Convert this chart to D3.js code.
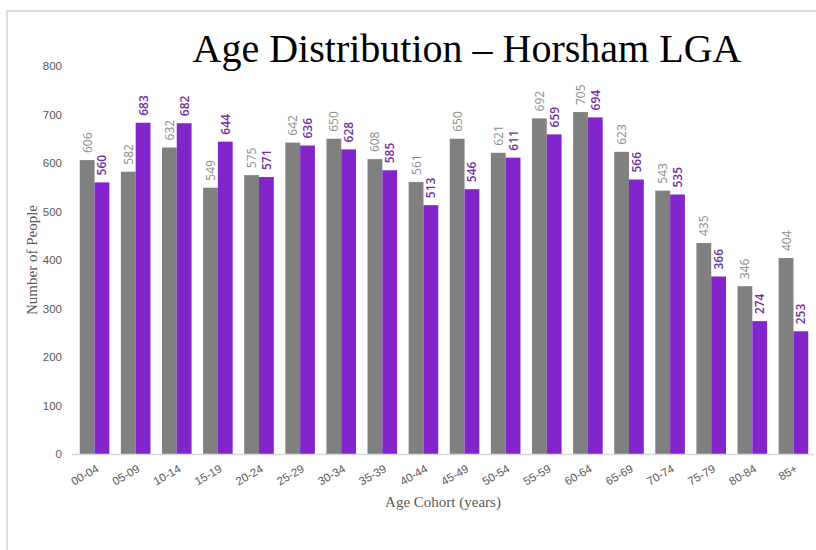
<!DOCTYPE html>
<html>
<head>
<meta charset="utf-8">
<script src="https://cdn.jsdelivr.net/npm/d3@7"></script>
<style>
  html, body { margin: 0; padding: 0; background: #fff; }
  svg { display: block; }
</style>
</head>
<body>
<svg id="chart" width="816" height="550"></svg>
<script>
// Age cohorts and population counts for the two series
const cohorts = ["00-04","05-09","10-14","15-19","20-24","25-29","30-34","35-39","40-44",
                 "45-49","50-54","55-59","60-64","65-69","70-74","75-79","80-84","85+"];
const seriesA = [606, 582, 632, 549, 575, 642, 650, 608, 561, 650, 621, 692, 705, 623, 543, 435, 346, 404];
const seriesB = [560, 683, 682, 644, 571, 636, 628, 585, 513, 546, 611, 659, 694, 566, 535, 366, 274, 253];
const yTicks = [0, 100, 200, 300, 400, 500, 600, 700, 800];
const seriesKeys = ["A", "B"];

const svg = d3.select("#chart");

// page frame (top and left edges)
svg.append("line").attr("x1", 6).attr("x2", 816).attr("y1", 11).attr("y2", 11)
  .attr("stroke", "#dcdcdc").attr("stroke-width", 2);
svg.append("line").attr("x1", 7).attr("x2", 7).attr("y1", 11).attr("y2", 550)
  .attr("stroke", "#dcdcdc").attr("stroke-width", 2);

const x0 = d3.scaleBand().domain(cohorts).range([74, 814]).paddingInner(0.28).paddingOuter(0.14);
const x1 = d3.scaleBand().domain(seriesKeys).range([0, x0.bandwidth()]).padding(0);
const y = d3.scaleLinear().domain([0, 800]).range([454, 66]);

const colors = { A: "#808080", B: "#8226cc" };
const labelColors = { A: "#8c8c8c", B: "#7030a0" };

const rows = cohorts.map((c, i) => ({ cohort: c, A: seriesA[i], B: seriesB[i] }));

const groups = svg.append("g").selectAll("g").data(rows).join("g")
  .attr("transform", d => `translate(${x0(d.cohort)},0)`);

groups.selectAll("rect").data(d => seriesKeys.map(k => ({ key: k, value: d[k] }))).join("rect")
  .attr("x", d => x1(d.key))
  .attr("width", x1.bandwidth())
  .attr("y", d => y(d.value))
  .attr("height", d => y(0) - y(d.value))
  .attr("fill", d => colors[d.key]);

// rotated value labels above each bar
groups.selectAll("text").data(d => seriesKeys.map(k => ({ key: k, value: d[k] }))).join("text")
  .attr("transform", d => `translate(${x1(d.key) + x1.bandwidth() / 2 + 4.5},${y(d.value) - 7}) rotate(-90)`)
  .attr("text-anchor", "start")
  .attr("font-family", "'Open Sans', sans-serif")
  .attr("font-size", 12)
  .attr("font-weight", d => d.key === "B" ? 600 : 400)
  .attr("fill", d => labelColors[d.key])
  .text(d => d.value);

// x axis
const xAxis = svg.append("g").attr("transform", `translate(0,${y(0)})`)
  .call(d3.axisBottom(x0).tickSize(0).tickPadding(0).tickSizeOuter(0));
xAxis.select(".domain").attr("stroke", "#d9d9d9").attr("stroke-width", 1.5)
  .attr("d", `M72,0.5H814`);
xAxis.selectAll(".tick text")
  .attr("font-family", "'Liberation Sans', Arial, sans-serif")
  .attr("font-size", 11.5)
  .attr("fill", "#595959")
  .attr("text-anchor", "end")
  .attr("y", 0).attr("dy", 0)
  .attr("transform", "translate(5,17) rotate(-30)");

// y axis
const yAxis = svg.append("g").attr("transform", "translate(62,0)")
  .call(d3.axisLeft(y).tickValues(yTicks).tickSize(0).tickPadding(0));
yAxis.select(".domain").remove();
yAxis.selectAll(".tick text")
  .attr("font-family", "'Liberation Sans', Arial, sans-serif")
  .attr("font-size", 11.5)
  .attr("fill", "#595959");

// axis titles
svg.append("text")
  .attr("transform", "translate(37,260) rotate(-90)")
  .attr("text-anchor", "middle")
  .attr("font-family", "'Liberation Serif', 'Times New Roman', serif")
  .attr("font-size", 15)
  .attr("fill", "#595959")
  .text("Number of People");

svg.append("text")
  .attr("x", 443).attr("y", 507)
  .attr("text-anchor", "middle")
  .attr("font-family", "'Liberation Serif', 'Times New Roman', serif")
  .attr("font-size", 15)
  .attr("fill", "#595959")
  .text("Age Cohort (years)");

// chart title, sized to span its slot
const title = svg.append("text")
  .attr("x", 467).attr("y", 62)
  .attr("text-anchor", "middle")
  .attr("font-family", "'Liberation Serif', 'Times New Roman', serif")
  .attr("font-size", 40)
  .attr("fill", "#000")
  .text("Age Distribution – Horsham LGA");
const tw = title.node().getComputedTextLength();
title.attr("font-size", 40 * 549 / tw);
</script>
</body>
</html>
